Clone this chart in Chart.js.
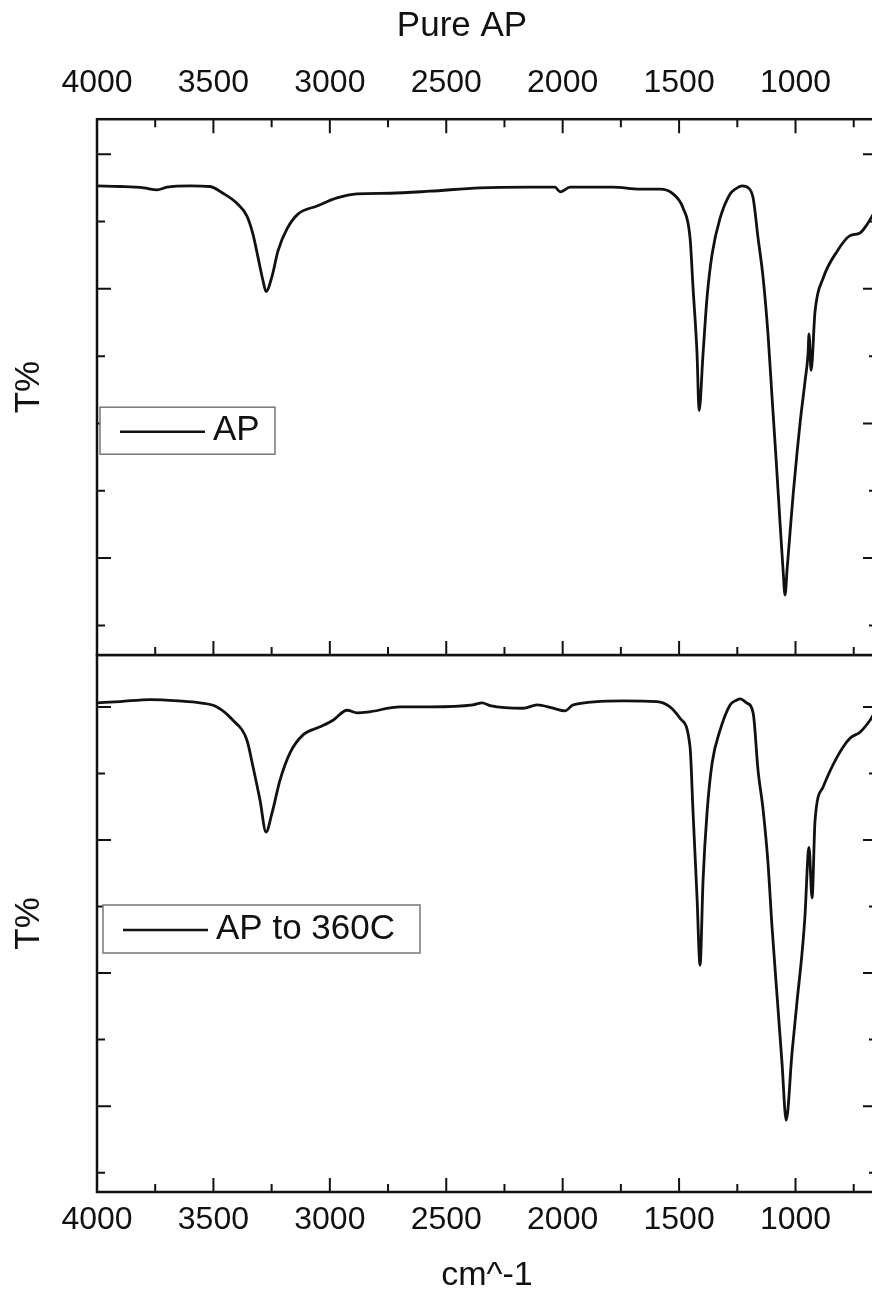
<!DOCTYPE html>
<html>
<head>
<meta charset="utf-8">
<title>Pure AP</title>
<script src="https://cdn.jsdelivr.net/npm/chart.js@4.4.1/dist/chart.umd.min.js"></script>
<style>
  html, body { margin: 0; padding: 0; background: #fff; overflow: hidden; }
  #wrap { position: relative; width: 872px; height: 1296px; overflow: hidden; }
  #wrap canvas { position: absolute; left: 0; }
  #topPanel { top: 0; }
  #bottomPanel { top: 654px; }
</style>
</head>
<body>
<div id="wrap">
  <canvas id="topPanel" width="924" height="657"></canvas>
  <canvas id="bottomPanel" width="924" height="642"></canvas>
</div>
<script>
// wavenumber axis labels (cm^-1), shared by both panels
const xTicks = [4000, 3500, 3000, 2500, 2000, 1500, 1000];

// pure AP spectrum
const wnAP = [4000, 3900, 3800, 3742, 3700, 3600, 3515, 3459, 3399, 3356, 3330, 3308, 3287, 3274,
  3248, 3223, 3184, 3137, 3055, 2969, 2883, 2741, 2570, 2355, 2140, 2033, 2011, 1968, 1784, 1668,
  1582, 1526, 1483, 1453, 1440, 1423, 1414, 1397, 1380, 1358, 1324, 1281, 1259, 1229, 1203, 1182,
  1161, 1139, 1118, 1101, 1083, 1066, 1053, 1045, 1036, 1023, 1010, 993, 980, 959, 946, 942, 933,
  916, 881, 821, 766, 723, 692, 671, 650];
const tAP = [95.3, 95.2, 95.0, 94.7, 95.1, 95.3, 95.2, 94.2, 92.7, 90.8, 88.1, 84.6, 81.2, 79.6,
  81.9, 85.6, 88.9, 91.1, 92.3, 93.5, 94.1, 94.2, 94.5, 95.0, 95.1, 95.1, 94.4, 95.1, 95.1, 94.8,
  94.8, 94.1, 92.0, 87.6, 80.1, 70.4, 61.9, 70.4, 78.7, 85.2, 90.5, 94.1, 94.8, 95.3, 95.0, 93.5,
  87.6, 81.6, 73.2, 64.0, 54.5, 45.0, 38.0, 34.5, 38.4, 44.0, 49.5, 55.8, 60.2, 66.3, 70.4, 73.3, 67.9,
  76.7, 81.6, 85.6, 87.9, 88.3, 89.6, 90.8, 92.0];

// AP heated to 360C
const wnHeated = [4000, 3900, 3772, 3650, 3558, 3485, 3416, 3356, 3330, 3300, 3274, 3248, 3214, 3171,
  3115, 3042, 2986, 2926, 2883, 2840, 2698, 2570, 2385, 2346, 2312, 2170, 2110, 2041, 1990, 1955,
  1741, 1595, 1539, 1496, 1453, 1440, 1423, 1410, 1397, 1380, 1358, 1324, 1281, 1259, 1238, 1210,
  1182, 1161, 1139, 1118, 1101, 1079, 1058, 1040, 1015, 993, 972, 959, 946, 942, 929, 916, 881, 821,
  766, 723, 680, 671, 650];
const tHeated = [100.6, 100.8, 101.1, 100.9, 100.6, 100.0, 98.0, 95.0, 91.0, 86.0, 81.2, 84.1, 89.0, 93.1,
  95.8, 97.0, 98.0, 99.5, 99.1, 99.2, 100.0, 100.0, 100.3, 100.6, 100.2, 99.8, 100.3, 99.8, 99.4, 100.3,
  100.9, 100.8, 100.0, 98.3, 94.0, 84.1, 71.4, 61.2, 74.0, 84.1, 91.6, 96.5, 100.3, 100.9, 101.2, 100.6,
  99.1, 90.5, 84.5, 76.5, 67.0, 56.5, 46.5, 37.9, 48.0, 55.9, 63.0, 68.8, 78.0, 78.9, 71.3, 83.0, 88.0, 92.5,
  95.3, 96.2, 98.0, 98.5, 99.5];

// T% tick marks (unlabelled)
const yMajor = [40, 60, 80, 100];
const yMinor = [30, 50, 70, 90];

Chart.defaults.font.family = '"Liberation Sans", Arial, sans-serif';
Chart.defaults.color = '#111';

// box around the plot plus short inward tick marks
const frameTicks = {
  id: 'frameTicks',
  afterDraw(chart, args, o) {
    const {ctx, chartArea: a, scales: {x, y}} = chart;
    ctx.save();
    ctx.strokeStyle = '#111';
    ctx.lineWidth = 2.5;
    ctx.strokeRect(a.left, a.top, a.right - a.left, a.bottom - a.top);
    ctx.lineWidth = 2;
    ctx.beginPath();
    for (let v = 500; v <= 4000; v += 250) {
      if (v < x.min || v > x.max) continue;
      const px = x.getPixelForValue(v);
      const len = v % 500 === 0 ? o.major : o.minor;
      if (o.top) { ctx.moveTo(px, a.top); ctx.lineTo(px, a.top + len); }
      ctx.moveTo(px, a.bottom); ctx.lineTo(px, a.bottom - len);
    }
    const tick = (v, len) => {
      const py = y.getPixelForValue(v);
      ctx.moveTo(a.left, py); ctx.lineTo(a.left + len, py);
      ctx.moveTo(a.right, py); ctx.lineTo(a.right - len, py);
    };
    yMajor.forEach(v => tick(v, o.major));
    yMinor.forEach(v => tick(v, o.minor));
    ctx.stroke();
    ctx.restore();
  }
};

// framed legend sitting inside the plot
const boxLegend = {
  id: 'boxLegend',
  afterDraw(chart, args, o) {
    const {ctx, chartArea: a} = chart;
    const ds = chart.data.datasets[0];
    const x0 = a.left + o.x, y0 = a.top + o.y, mid = y0 + o.h / 2;
    ctx.save();
    ctx.fillStyle = '#fff';
    ctx.fillRect(x0, y0, o.w, o.h);
    ctx.strokeStyle = '#777';
    ctx.lineWidth = 1.5;
    ctx.strokeRect(x0, y0, o.w, o.h);
    ctx.strokeStyle = ds.borderColor;
    ctx.lineWidth = 2.5;
    ctx.beginPath();
    ctx.moveTo(x0 + 20, mid + 1);
    ctx.lineTo(x0 + 105, mid + 1);
    ctx.stroke();
    ctx.fillStyle = '#111';
    ctx.font = '35px "Liberation Sans", Arial, sans-serif';
    ctx.textBaseline = 'middle';
    ctx.fillText(ds.label, x0 + 113, mid);
    ctx.restore();
  }
};

function panel(id, label, wn, t, yMin, yMax, top, legendBox) {
  return new Chart(document.getElementById(id), {
    type: 'line',
    data: {
      datasets: [{
        label: label,
        data: wn.map((w, i) => ({x: w, y: t[i]})),
        borderColor: '#111',
        borderWidth: 2.8,
        pointRadius: 0,
        cubicInterpolationMode: 'monotone',
        fill: false
      }]
    },
    options: {
      responsive: false,
      animation: false,
      layout: {padding: top ? {top: 0, bottom: 2, left: 0, right: 0} : {top: 1, bottom: 0, left: 0, right: 0}},
      plugins: {
        legend: {display: false},
        tooltip: {enabled: false},
        title: {
          display: top,
          text: 'Pure AP',
          font: {size: 35, weight: 'normal'},
          padding: {top: 5, bottom: 0}
        },
        frameTicks: {top: top, major: 14, minor: 8},
        boxLegend: legendBox
      },
      scales: {
        x: {
          type: 'linear',
          position: top ? 'top' : 'bottom',
          reverse: true,
          min: 650,
          max: 4000,
          afterBuildTicks: s => { s.ticks = xTicks.map(v => ({value: v})); },
          ticks: {
            font: {size: 32},
            padding: top ? 17 : 9,
            maxRotation: 0,
            autoSkip: false,
            callback: v => String(v)
          },
          grid: {display: false, drawTicks: false},
          border: {display: false},
          title: {
            display: !top,
            text: 'cm^-1',
            font: {size: 34},
            padding: {top: 0, bottom: 0}
          },
          afterFit: s => { s.height = top ? 72.2 : 104; }
        },
        y: {
          min: yMin,
          max: yMax,
          ticks: {display: false},
          grid: {display: false, drawTicks: false},
          border: {display: false},
          title: {display: true, text: 'T%', font: {size: 35}, padding: {top: 8, bottom: 0}},
          afterFit: s => { s.width = 97; }
        },
        yRight: {
          position: 'right',
          ticks: {display: false},
          grid: {display: false, drawTicks: false},
          border: {display: false},
          afterFit: s => { s.width = 47; }
        }
      }
    },
    plugins: [frameTicks, boxLegend]
  });
}

panel('topPanel', 'AP', wnAP, tAP, 25.6, 105.2, true, {x: 3, y: 288, w: 175, h: 47});
panel('bottomPanel', 'AP to 360C', wnHeated, tHeated, 27.1, 107.8, false, {x: 6, y: 250, w: 317, h: 48});
</script>
</body>
</html>
